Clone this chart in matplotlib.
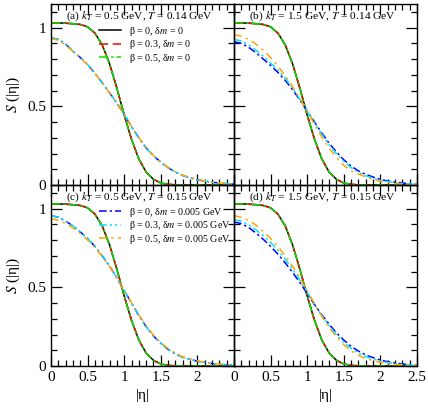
import numpy as np
import matplotlib
matplotlib.use('Agg')
import matplotlib.pyplot as plt
from matplotlib.ticker import MultipleLocator, FixedLocator

plt.rcParams['font.family'] = 'serif'
plt.rcParams['font.serif'] = ['Liberation Serif', 'DejaVu Serif']
plt.rcParams['mathtext.fontset'] = 'stix'

eta = [0.0, 0.1, 0.2, 0.3, 0.4, 0.5, 0.6, 0.7, 0.8, 0.9, 1.0, 1.1, 1.2,
       1.3, 1.4, 1.5, 1.6, 1.7, 1.8, 2.0, 2.2, 2.5]

# delta m = 0 curves (nearly identical in every panel)
s_beta0 = [1.03, 1.03, 1.028, 1.025, 1.02, 1.005, 0.965, 0.89, 0.77, 0.615,
           0.445, 0.29, 0.165, 0.082, 0.036, 0.013, 0.004, 0.001, 0.0, 0.0, 0.0, 0.0]
s_beta3 = [1.03, 1.03, 1.028, 1.025, 1.02, 1.005, 0.965, 0.89, 0.77, 0.615,
           0.445, 0.29, 0.165, 0.082, 0.036, 0.013, 0.004, 0.001, 0.0, 0.0, 0.0, 0.0]
s_beta5 = [1.03, 1.03, 1.028, 1.025, 1.02, 1.005, 0.965, 0.89, 0.77, 0.615,
           0.445, 0.29, 0.165, 0.082, 0.036, 0.013, 0.004, 0.001, 0.0, 0.0, 0.0, 0.0]

# delta m = 0.005 GeV curves, per panel
a_b0 = [0.935, 0.925, 0.895, 0.85, 0.81, 0.765, 0.71, 0.65, 0.585, 0.52,
        0.45, 0.37, 0.30, 0.235, 0.185, 0.145, 0.11, 0.082, 0.06, 0.033, 0.017, 0.005]
a_b3 = [0.935, 0.925, 0.895, 0.85, 0.81, 0.765, 0.71, 0.65, 0.585, 0.52,
        0.45, 0.37, 0.30, 0.235, 0.185, 0.145, 0.11, 0.082, 0.06, 0.033, 0.017, 0.005]
a_b5 = [0.93, 0.92, 0.89, 0.848, 0.808, 0.763, 0.708, 0.65, 0.585, 0.52,
        0.45, 0.372, 0.302, 0.238, 0.187, 0.147, 0.112, 0.084, 0.062, 0.034, 0.018, 0.005]

b_b0 = [0.91, 0.9, 0.875, 0.84, 0.80, 0.76, 0.715, 0.665, 0.605, 0.54,
        0.47, 0.40, 0.33, 0.265, 0.21, 0.16, 0.12, 0.09, 0.067, 0.035, 0.017, 0.004]
b_b3 = [0.925, 0.915, 0.89, 0.857, 0.818, 0.775, 0.73, 0.678, 0.615, 0.545,
        0.47, 0.395, 0.322, 0.255, 0.198, 0.15, 0.11, 0.08, 0.058, 0.03, 0.014, 0.003]
b_b5 = [0.955, 0.945, 0.925, 0.895, 0.855, 0.81, 0.755, 0.695, 0.625, 0.55,
        0.47, 0.385, 0.305, 0.235, 0.175, 0.125, 0.09, 0.07, 0.05, 0.022, 0.009, 0.002]

c_b0 = [0.955, 0.945, 0.92, 0.89, 0.852, 0.81, 0.76, 0.70, 0.635, 0.56,
        0.48, 0.40, 0.32, 0.25, 0.19, 0.145, 0.105, 0.077, 0.055, 0.03, 0.015, 0.004]
c_b3 = [0.955, 0.945, 0.92, 0.89, 0.852, 0.81, 0.76, 0.70, 0.635, 0.56,
        0.48, 0.40, 0.32, 0.25, 0.19, 0.145, 0.105, 0.077, 0.055, 0.03, 0.015, 0.004]
c_b5 = [0.935, 0.927, 0.905, 0.877, 0.842, 0.80, 0.752, 0.695, 0.632, 0.56,
        0.482, 0.403, 0.325, 0.256, 0.196, 0.15, 0.11, 0.081, 0.058, 0.032, 0.016, 0.004]

d_b0 = [0.915, 0.905, 0.88, 0.845, 0.805, 0.76, 0.71, 0.655, 0.595, 0.53,
        0.46, 0.39, 0.325, 0.265, 0.21, 0.165, 0.125, 0.095, 0.07, 0.037, 0.018, 0.004]
d_b3 = [0.93, 0.92, 0.897, 0.865, 0.828, 0.785, 0.735, 0.678, 0.615, 0.545,
        0.47, 0.392, 0.32, 0.255, 0.198, 0.15, 0.112, 0.082, 0.06, 0.03, 0.014, 0.003]
d_b5 = [0.955, 0.945, 0.925, 0.895, 0.855, 0.81, 0.76, 0.70, 0.635, 0.56,
        0.48, 0.395, 0.315, 0.245, 0.185, 0.135, 0.097, 0.068, 0.047, 0.022, 0.01, 0.002]

titles = [r'(a) $k_T$ = 0.5 GeV, $T$ = 0.14 GeV',
          r'(b) $k_T$ = 1.5 GeV, $T$ = 0.14 GeV',
          r'(c) $k_T$ = 0.5 GeV, $T$ = 0.15 GeV',
          r'(d) $k_T$ = 1.5 GeV, $T$ = 0.15 GeV']
dm_sets = [(a_b0, a_b3, a_b5), (b_b0, b_b3, b_b5),
           (c_b0, c_b3, c_b5), (d_b0, d_b3, d_b5)]

fig = plt.figure(figsize=(4.28, 4.11), dpi=100)
W = 183 / 428
H = 181 / 411
x0 = 51 / 428
y0 = 1 - 366 / 411
pos = [(x0, y0 + H), (x0 + W, y0 + H), (x0, y0), (x0 + W, y0)]

for i in range(4):
    ax = fig.add_axes([pos[i][0], pos[i][1], W, H])
    ax.set_facecolor('none')
    l1, = ax.plot(eta, s_beta0, color='black', lw=1.1, ls='-')
    l2, = ax.plot(eta, s_beta3, color='#ff0000', lw=1.1, ls=(0, (6, 3)))
    l3, = ax.plot(eta, s_beta5, color='#00e000', lw=1.1, ls=(0, (6, 2, 1.5, 2)))
    b0, b3, b5 = dm_sets[i]
    l4, = ax.plot(eta, b0, color='#0000ff', lw=1.1, ls=(0, (5, 2, 1.5, 2)))
    l5, = ax.plot(eta, b3, color='#00e5ff', lw=1.1, ls=(0, (5, 2, 1.5, 2, 1.5, 2)))
    l6, = ax.plot(eta, b5, color='#ffa500', lw=1.1, ls=(0, (5, 3, 1.5, 3)))
    ax.set_xlim(0, 2.5)
    ax.set_ylim(0, 1.15)
    ax.xaxis.set_major_locator(MultipleLocator(0.5))
    ax.xaxis.set_minor_locator(MultipleLocator(0.1))
    ax.yaxis.set_major_locator(FixedLocator([0, 0.5, 1]))
    ax.yaxis.set_minor_locator(MultipleLocator(0.1))
    ax.tick_params(which='both', direction='in', top=True, right=True,
                   labelsize=11, width=0.9)
    ax.tick_params(which='major', length=8)
    ax.tick_params(which='minor', length=4)
    ax.xaxis.set_major_formatter(plt.FuncFormatter(lambda v, p: '%g' % v))
    ax.yaxis.set_major_formatter(plt.FuncFormatter(lambda v, p: '%g' % v))
    for s in ax.spines.values():
        s.set_linewidth(1.0)
    ax.text(0.08, 0.93, titles[i], transform=ax.transAxes, fontsize=8.2,
            va='center', ha='left')
    if i < 2:
        ax.set_xticklabels([])
    else:
        ax.set_xlabel('|η|', fontsize=11, labelpad=4)
    if i % 2 == 1:
        ax.set_yticklabels([])
    else:
        ax.set_ylabel(r'$S$ (|η|)', fontsize=11, labelpad=4)
    if i == 2:
        ax.xaxis.set_major_locator(FixedLocator([0, 0.5, 1, 1.5, 2]))
    leg_kw = dict(loc='upper left', bbox_to_anchor=(0.265, 0.886),
                  frameon=False, fontsize=7.2, handlelength=2.2,
                  labelspacing=0.05, handletextpad=0.8, borderpad=0,
                  borderaxespad=0)
    if i == 0:
        ax.legend([l1, l2, l3], ['β = 0, δ$m$ = 0', 'β = 0.3, δ$m$ = 0',
                                 'β = 0.5, δ$m$ = 0'], **leg_kw)
    if i == 2:
        leg = ax.legend([l4, l5, l6], ['β = 0, δ$m$ = 0.005 GeV',
                                       'β = 0.3, δ$m$ = 0.005 GeV',
                                       'β = 0.5, δ$m$ = 0.005 GeV'], **leg_kw)
        leg.set_zorder(10)
        ax.set_zorder(5)

plt.savefig('out.png', dpi=100)
